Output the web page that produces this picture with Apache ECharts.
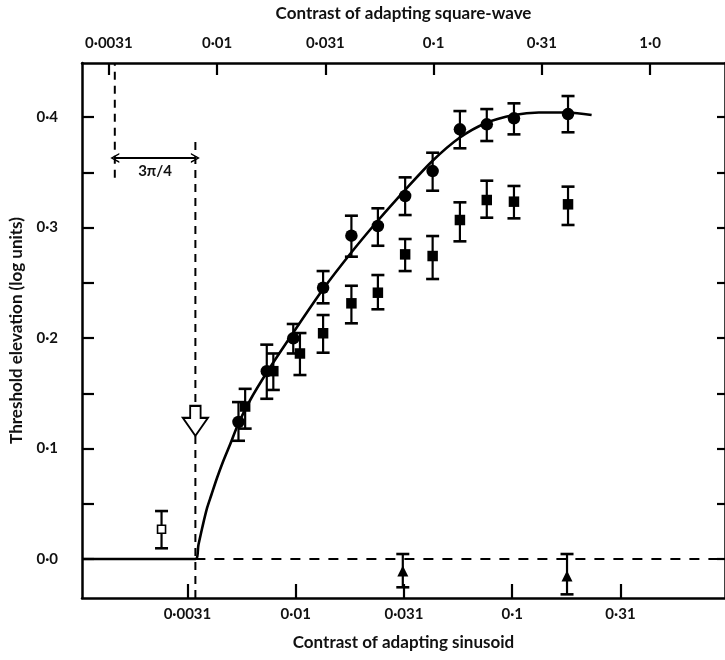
<!DOCTYPE html>
<html><head><meta charset="utf-8">
<script src="https://cdn.jsdelivr.net/npm/echarts@6/dist/echarts.min.js"></script>
<style>html,body{margin:0;padding:0;background:#fff}#c{width:725px;height:660px}</style>
</head><body><div id="c"></div>
<script>
// ---- tick labels ----
const sinTickValues = [0.003162, 0.01, 0.03162, 0.1, 0.3162];
const sinTickLabels = ['0·0031', '0·01', '0·031', '0·1', '0·31'];
const sqTickValues = [0.003162, 0.01, 0.03162, 0.1, 0.3162, 1.0];
const sqTickLabels = ['0·0031', '0·01', '0·031', '0·1', '0·31', '1·0'];
const yTickValues = [0, 0.05, 0.1, 0.15, 0.2, 0.25, 0.3, 0.35, 0.4];
const yLabelValues = [0, 0.1, 0.2, 0.3, 0.4];
const yLabels = ['0·0', '0·1', '0·2', '0·3', '0·4'];

// ---- axis ranges (contrast) ----
const sinRange = [0.001030, 0.9611];
const sqRange = [0.002376, 2.2183];
const yRange = [-0.0353, 0.4489];

// ---- sinusoid adaptation: circles ----
const circleX  = [0.00544, 0.00735, 0.00974, 0.01338, 0.01808, 0.02396, 0.03202, 0.04289, 0.05733, 0.07629, 0.10186, 0.18102];
const circleY  = [0.124, 0.170, 0.1997, 0.2455, 0.2926, 0.3014, 0.3285, 0.3511, 0.3889, 0.3934, 0.3988, 0.4027];
const circleLo = [0.107, 0.145, 0.186, 0.2314, 0.2736, 0.2835, 0.3113, 0.3333, 0.3717, 0.3783, 0.3843, 0.3862];
const circleHi = [0.142, 0.194, 0.2127, 0.2606, 0.3107, 0.3174, 0.3454, 0.3677, 0.4054, 0.4072, 0.4124, 0.419];

// ---- square-wave adaptation: filled squares ----
const squareX  = [0.00584, 0.00788, 0.01046, 0.01338, 0.01808, 0.02396, 0.03202, 0.04289, 0.05733, 0.07629, 0.10186, 0.18102];
const squareY  = [0.138, 0.170, 0.186, 0.2043, 0.2314, 0.241, 0.2757, 0.2742, 0.3068, 0.3249, 0.3234, 0.321];
const squareLo = [0.118, 0.153, 0.1665, 0.1867, 0.2133, 0.226, 0.2606, 0.2534, 0.2875, 0.3089, 0.3083, 0.3023];
const squareHi = [0.154, 0.186, 0.2045, 0.2208, 0.2473, 0.257, 0.2896, 0.2923, 0.3228, 0.3424, 0.3376, 0.337];

// ---- open square ----
const openX = [0.0024];
const openY = [0.0269];
const openLo = [0.0097];
const openHi = [0.0434];

// ---- triangles ----
const triX = [0.03123, 0.1791];
const triY = [-0.0109, -0.0154];
const triLo = [-0.0256, -0.032];
const triHi = [0.0045, 0.0045];

// ---- fitted curve ----
const curveX = [0.001030, 0.003441, 0.003553, 0.003707, 0.003896, 0.004076, 0.004329, 0.004628, 0.004985, 0.005425, 0.006162, 0.007377, 0.009713, 0.013343, 0.018136, 0.023877, 0.032124, 0.042762, 0.056897, 0.075704, 0.101872, 0.132738, 0.180493, 0.232631];
const curveY = [0, 0, 0.0127, 0.0290, 0.0462, 0.0579, 0.0733, 0.0887, 0.1041, 0.1222, 0.1439, 0.1692, 0.2045, 0.2439, 0.2778, 0.3059, 0.3343, 0.3602, 0.3810, 0.3946, 0.4018, 0.4041, 0.4041, 0.4018];

// ---- annotations ----
const thresholdSin = 0.00344;         // dashed line / arrow position (sinusoid)
const thresholdSq = 0.00146;          // dashed line at square-wave threshold
const arrowLevel = 0.363;             // height of the 3π/4 double arrow
const hollowArrowY = 0.125;
const lowDashTop = 0.382;
const highDashBottom = 0.345;

const L = Math.log10;
const font = 'Lato';

function nearestLabel(v, vals, labels) {
  let best = 0, d = Infinity;
  vals.forEach((t, i) => { const dd = Math.abs(L(t) - v); if (dd < d) { d = dd; best = i; } });
  return d < 0.01 ? labels[best] : '';
}

function errRender(params, api) {
  const x = api.value(0), lo = api.value(2), hi = api.value(3);
  const p1 = api.coord([x, hi]);
  const p2 = api.coord([x, lo]);
  const w = 6.5;
  const st = { stroke: '#000', lineWidth: 2.2 };
  return { type: 'group', children: [
    { type: 'line', shape: { x1: p1[0], y1: p1[1], x2: p2[0], y2: p2[1] }, style: st },
    { type: 'line', shape: { x1: p1[0] - w, y1: p1[1], x2: p1[0] + w, y2: p1[1] }, style: { stroke: '#000', lineWidth: 2.6 } },
    { type: 'line', shape: { x1: p2[0] - w, y1: p2[1], x2: p2[0] + w, y2: p2[1] }, style: { stroke: '#000', lineWidth: 2.6 } }
  ]};
}
function errData(xs, ys, los, his) { return xs.map((x, i) => [L(x), ys[i], los[i], his[i]]); }
function ptData(xs, ys) { return xs.map((x, i) => [L(x), ys[i]]); }

const chevron = 'path://M0,10 L5,0 L10,10 L8.4,10 L5,3.2 L1.6,10 Z';
const blockArrow = 'path://M7,0 L17,0 L17,12 L24,12 L12,30 L0,12 L7,12 Z';

const axisText = { fontFamily: font, fontSize: 15, fontWeight: 'bold', color: '#111' };
const nameStyle = { fontFamily: font, fontSize: 17, fontWeight: 'bold', color: '#111' };
const lineAx = { onZero: false, lineStyle: { color: '#000', width: 2.5 } };

const option = {
  backgroundColor: '#fff',
  animation: false,
  grid: { left: 81, top: 63, width: 646, height: 535 },
  xAxis: [
    {
      type: 'value', position: 'bottom', min: L(sinRange[0]), max: L(sinRange[1]),
      name: 'Contrast of adapting sinusoid', nameLocation: 'middle', nameGap: 36, nameTextStyle: nameStyle,
      axisLine: lineAx,
      axisTick: { inside: true, length: 14, lineStyle: { color: '#000', width: 2.2 }, customValues: sinTickValues.map(L) },
      axisLabel: Object.assign({ margin: 9, customValues: sinTickValues.map(L), formatter: v => nearestLabel(v, sinTickValues, sinTickLabels) }, axisText),
      splitLine: { show: false }
    },
    {
      type: 'value', position: 'top', min: L(sqRange[0]), max: L(sqRange[1]),
      name: 'Contrast of adapting square-wave', nameLocation: 'middle', nameGap: 41, nameTextStyle: nameStyle,
      axisLine: lineAx,
      axisTick: { inside: true, length: 12, lineStyle: { color: '#000', width: 2.2 }, customValues: sqTickValues.map(L) },
      axisLabel: Object.assign({ margin: 12, customValues: sqTickValues.map(L), formatter: v => nearestLabel(v, sqTickValues, sqTickLabels) }, axisText),
      splitLine: { show: false }
    }
  ],
  yAxis: [
    {
      type: 'value', position: 'left', min: yRange[0], max: yRange[1],
      name: 'Threshold elevation (log units)', nameLocation: 'middle', nameGap: 57, nameRotate: 90, nameTextStyle: nameStyle,
      axisLine: lineAx,
      axisTick: { inside: true, length: 12, lineStyle: { color: '#000', width: 2.2 }, customValues: yTickValues },
      axisLabel: Object.assign({ margin: 24, customValues: yLabelValues, formatter: v => { const i = yLabelValues.findIndex(t => Math.abs(t - v) < 1e-6); return i >= 0 ? yLabels[i] : ''; } }, axisText),
      splitLine: { show: false }
    },
    {
      type: 'value', position: 'right', min: yRange[0], max: yRange[1],
      axisLine: { show: true, onZero: false, lineStyle: { color: '#000', width: 2.5 } },
      axisTick: { inside: true, length: 8, lineStyle: { color: '#000', width: 2.2 }, customValues: yTickValues },
      axisLabel: { show: false },
      splitLine: { show: false }
    }
  ],
  series: [
    { // solid fitted curve
      type: 'line', data: ptData(curveX, curveY), smooth: 0.3, showSymbol: false,
      lineStyle: { color: '#000', width: 2.6 }, z: 3, silent: true
    },
    { // dashed zero line
      type: 'line', data: [[L(thresholdSin), 0], [L(sinRange[1]), 0]], showSymbol: false,
      lineStyle: { color: '#000', width: 2.2, type: [10, 9] }, z: 2, silent: true
    },
    { // dashed vertical at sinusoid threshold
      type: 'line', data: [[L(thresholdSin), yRange[0]], [L(thresholdSin), lowDashTop]], showSymbol: false,
      lineStyle: { color: '#000', width: 2, type: [8, 6] }, z: 2, silent: true
    },
    { // dashed vertical at square-wave threshold + 3π/4 double arrow
      type: 'line', data: [[L(thresholdSq), highDashBottom], [L(thresholdSq), yRange[1]]], showSymbol: false,
      lineStyle: { color: '#000', width: 2, type: [8, 6] }, z: 2, silent: true,
      markLine: {
        silent: true, symbol: [chevron, chevron], symbolSize: [10, 9],
        lineStyle: { color: '#000', width: 1.8, type: 'solid' },
        label: { show: true, position: 'insideMiddleBottom', formatter: '3π/4', distance: 6,
                 fontFamily: font, fontSize: 15, fontWeight: 'bold', color: '#111' },
        data: [[{ coord: [L(thresholdSq), arrowLevel] }, { coord: [L(thresholdSin), arrowLevel] }]]
      }
    },
    { // hollow arrow
      type: 'scatter', data: [[L(thresholdSin), hollowArrowY]], symbol: blockArrow, symbolSize: [25, 30],
      itemStyle: { color: '#fff', borderColor: '#000', borderWidth: 2, opacity: 1 }, z: 6, silent: true
    },
    { type: 'custom', renderItem: errRender, data: errData(circleX, circleY, circleLo, circleHi), z: 4, silent: true },
    { type: 'custom', renderItem: errRender, data: errData(squareX, squareY, squareLo, squareHi), z: 4, silent: true },
    { type: 'custom', renderItem: errRender, data: errData(openX, openY, openLo, openHi), z: 4, silent: true },
    { type: 'custom', renderItem: errRender, data: errData(triX, triY, triLo, triHi), z: 4, silent: true },
    { type: 'scatter', data: ptData(circleX, circleY), symbol: 'circle', symbolSize: 12.5, itemStyle: { color: '#000', opacity: 1 }, z: 5, silent: true },
    { type: 'scatter', data: ptData(squareX, squareY), symbol: 'rect', symbolSize: 10.5, itemStyle: { color: '#000', opacity: 1 }, z: 5, silent: true },
    { type: 'scatter', data: ptData(openX, openY), symbol: 'rect', symbolSize: 8, itemStyle: { color: '#fff', borderColor: '#000', borderWidth: 1.6, opacity: 1 }, z: 5, silent: true },
    { type: 'scatter', data: ptData(triX, triY), symbol: 'triangle', symbolSize: 11, itemStyle: { color: '#000', opacity: 1 }, z: 5, silent: true }
  ]
};

const chart = echarts.init(document.getElementById('c'), null, { renderer: 'canvas' });
chart.setOption(option);
</script>
</body></html>
